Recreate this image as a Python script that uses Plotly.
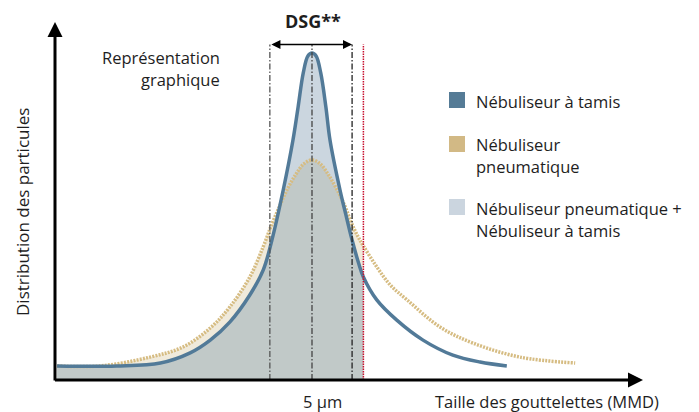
import plotly.graph_objects as go

# ---- data ----
size_tamis = [0.04, 1.2, 2.05, 2.63, 3.02, 3.40, 3.79, 4.05, 4.22, 4.44, 4.63, 4.73, 4.83, 4.92, 5.0,
              5.08, 5.17, 5.27, 5.35, 5.545, 5.66, 5.78, 5.90, 6.0, 6.26, 6.65, 7.16, 7.74, 8.27, 8.79]
dist_tamis = [4.3, 4.3, 5.2, 8.3, 12.2, 17.7, 26.0, 33.6, 42.8, 58.1, 73.4, 83.5, 93.9, 99.1, 100,
              99.1, 93.9, 83.5, 73.4, 58.1, 50.5, 42.8, 36.1, 31.5, 24.5, 18.3, 12.2, 7.6, 5.5, 4.3]

size_pneu = [0.04, 0.875, 1.85, 2.49, 3.02, 3.40, 3.79, 4.05, 4.22, 4.38, 4.53, 4.69, 4.84, 5.0,
             5.16, 5.31, 5.47, 5.64, 5.76, 5.88, 6.0, 6.26, 6.52, 6.85, 7.49, 8.13, 9.05, 10.12]
dist_pneu = [4.3, 4.3, 7.0, 10.1, 15.9, 22.3, 31.5, 40.7, 47.7, 53.5, 58.7, 63.0, 66.1, 67.3,
             66.1, 63.0, 58.7, 53.2, 48.3, 44.3, 41.0, 34.6, 29.1, 24.5, 16.2, 11.3, 7.0, 5.2]

MMD = 5.0          # µm
DSG_LOW = 4.18
DSG_HIGH = 5.78
CUTOFF = 6.0

legend_labels = [["Nébuliseur à tamis"],
                 ["Nébuliseur", "pneumatique"],
                 ["Nébuliseur pneumatique +", "Nébuliseur à tamis"]]
legend_colors = ["#557b96", "#d2b985", "#cbd5df"]

mmd_label = "5 µm"
x_title = "Taille des gouttelettes (MMD)"
y_title = "Distribution des particules"
note_lines = ["Représentation", "graphique"]
dsg_label = "DSG**"

# ---- styling ----
W, H = 699, 412
PAGE = 8           # default body margin of the html page
FONT = "Open Sans"
TXT = "#1e1e1e"
BLUE = "#527a98"
BEIGE = "#d6bc82"
X0_PX, PX_PER_X = 55, 51.4
Y0_PX, PX_PER_Y = 380, 3.27
X_RANGE = [(PAGE - X0_PX) / PX_PER_X, (W + PAGE - X0_PX) / PX_PER_X]
Y_RANGE = [(Y0_PX - H - PAGE) / PX_PER_Y, (Y0_PX - PAGE) / PX_PER_Y]
Y_TOP = 109.5
X_END = 11.44
LINE_TOP = 102.6


def paper(xpx, ypx):
    return (xpx - PAGE) / W, 1 - (ypx - PAGE) / H


def cut(xs, ys):
    pts = [(a, b) for a, b in zip(xs, ys) if a <= CUTOFF]
    return [p[0] for p in pts], [p[1] for p in pts]


fig = go.Figure()

px_, py_ = cut(size_pneu, dist_pneu)
fig.add_trace(go.Scatter(x=px_, y=py_, mode="lines", fill="tozeroy",
                         fillcolor="rgb(240,234,219)", line=dict(width=0, shape="spline"),
                         hoverinfo="skip", showlegend=False))
tx_, ty_ = cut(size_tamis, dist_tamis)
fig.add_trace(go.Scatter(x=tx_, y=ty_, mode="lines", fill="tozeroy",
                         fillcolor="rgba(115,144,169,0.37)", line=dict(width=0, shape="spline"),
                         hoverinfo="skip", showlegend=False))

fig.add_trace(go.Scatter(x=size_pneu, y=dist_pneu, mode="lines",
                         line=dict(color=BEIGE, width=3.5, shape="spline", dash="2px,1.2px"),
                         hoverinfo="skip", showlegend=False))
fig.add_trace(go.Scatter(x=size_tamis, y=dist_tamis, mode="lines",
                         line=dict(color=BLUE, width=3.5, shape="spline"),
                         hoverinfo="skip", showlegend=False))

shapes = []
for xv, col in [(DSG_LOW, "#555555"), (MMD, "#444444"), (DSG_HIGH, "#222222")]:
    shapes.append(dict(type="line", xref="x", yref="y", x0=xv, x1=xv, y0=0, y1=LINE_TOP,
                       line=dict(color=col, width=1.3, dash="6px,2px,1.5px,2px"), layer="above"))
shapes.append(dict(type="line", xref="x", yref="y", x0=CUTOFF, x1=CUTOFF, y0=0, y1=LINE_TOP,
                   line=dict(color="#c8102e", width=1.5, dash="1.5px,1px"), layer="above"))

# legend squares
sq_tops = [92, 136, 199]
for top, col in zip(sq_tops, legend_colors):
    x0, y0 = paper(449, top)
    x1, y1 = paper(465, top + 16)
    shapes.append(dict(type="rect", xref="paper", yref="paper", x0=x0, x1=x1, y0=y1, y1=y0,
                       fillcolor=col, line=dict(width=0)))

ann = []
# axes with arrows
ann.append(dict(x=0, y=Y_TOP, ax=0, ay=-0.6, xref="x", yref="y", axref="x", ayref="y",
                text="", showarrow=True, arrowhead=2, arrowsize=1, arrowwidth=3, arrowcolor="black"))
ann.append(dict(x=X_END, y=0, ax=-0.03, ay=0, xref="x", yref="y", axref="x", ayref="y",
                text="", showarrow=True, arrowhead=2, arrowsize=1, arrowwidth=3, arrowcolor="black"))
# DSG double arrow
ann.append(dict(x=DSG_HIGH, y=LINE_TOP, ax=DSG_LOW, ay=LINE_TOP, xref="x", yref="y", axref="x", ayref="y",
                text="", showarrow=True, arrowhead=2, arrowside="end+start", arrowsize=1.4,
                arrowwidth=1.3, arrowcolor="black"))


def text(t, xpx, ypx, anchor="center", size=16.5, bold=False, angle=0):
    x, y = paper(xpx, ypx)
    ann.append(dict(text=("<b>%s</b>" % t) if bold else t, x=x, y=y, xref="paper", yref="paper",
                    xanchor=anchor, yanchor="middle", showarrow=False, textangle=angle,
                    font=dict(family=FONT, size=size, color=TXT)))


text(dsg_label, 313, 21, bold=True, size=18)
text(note_lines[0], 222, 57, anchor="right")
text(note_lines[1], 222, 79, anchor="right")
text(y_title, 22, 212, angle=-90, size=17)
text(mmd_label, 322, 401)
text(x_title, 547, 401)
leg_y = [[101], [145, 167], [208, 230]]
for lines, ys in zip(legend_labels, leg_y):
    for t, yv in zip(lines, ys):
        text(t, 474, yv, anchor="left")

fig.update_layout(width=W, height=H, margin=dict(l=0, r=0, t=0, b=0),
                  paper_bgcolor="white", plot_bgcolor="white",
                  xaxis=dict(range=X_RANGE, visible=False, fixedrange=True),
                  yaxis=dict(range=Y_RANGE, visible=False, fixedrange=True),
                  shapes=shapes, annotations=ann, showlegend=False)

fig.write_html("out.html")
